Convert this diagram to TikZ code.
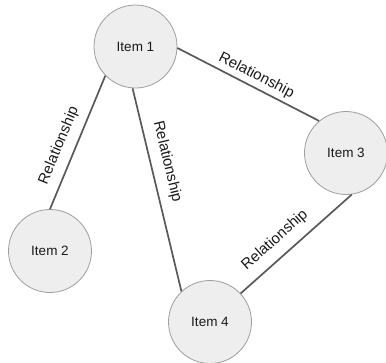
\documentclass[tikz,border=0pt]{standalone}
\usepackage{fontspec}
\setmainfont{Liberation Sans}
\usepackage{tikz}
\definecolor{Edge}{HTML}{595959}
\definecolor{Rim}{HTML}{9E9E9E}
\definecolor{Disc}{HTML}{EEEEEE}
\definecolor{Ink}{HTML}{1A1A1A}

\begin{document}
\begin{tikzpicture}[
  x=1pt,y=-1pt,
  item/.style={circle,draw=Rim,line width=0.8pt,fill=Disc,minimum size=83pt,inner sep=0pt,text=Ink,font=\fontsize{13.5}{16}\selectfont},
  rel/.style={sloped,above,inner sep=0pt,text=Ink,font=\fontsize{15}{18}\selectfont},
  link/.style={line width=1.7pt,color=Edge}
]
\useasboundingbox (0,0) rectangle (386,362);
\node[item] (i1) at (135.5,46.5) {Item 1};
\node[item] (i2) at (50,251) {Item 2};
\node[item] (i3) at (346,153) {Item 3};
\node[item] (i4) at (210,322) {Item 4};
\draw[link] (i1.224) -- node[rel,pos=0.57,outer sep=9pt] (r12) {Relationship} (i2.90);
\draw[link] (i1.266) -- node[rel,pos=0.38,outer sep=9.5pt] (r14) {Relationship} (i4.133);
\draw[link] (i1.358) -- node[rel,pos=0.52,outer sep=4.5pt] (r13) {Relationship} (i3.130);
\draw[link] (i4.43) -- node[rel,pos=0.41,outer sep=10pt] (r34) {Relationship} (i3.278);
\end{tikzpicture}
\end{document}
